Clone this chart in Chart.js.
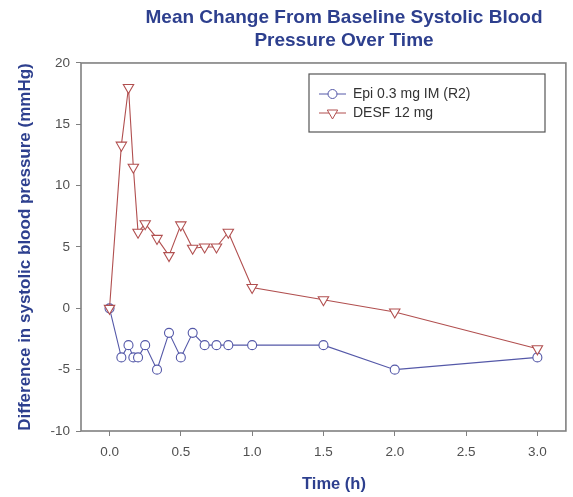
<!DOCTYPE html>
<html>
<head>
<meta charset="utf-8">
<script src="https://cdn.jsdelivr.net/npm/chart.js@4/dist/chart.umd.min.js"></script>
<style>
  html, body { margin: 0; padding: 0; background: #ffffff; }
  #wrap { width: 573px; height: 497px; }
</style>
</head>
<body>
<div id="wrap"><canvas id="c" width="573" height="497"></canvas></div>
<script>
// ---- data ----
const timesH = [0, 0.083, 0.133, 0.167, 0.2, 0.25, 0.333, 0.417, 0.5, 0.583, 0.667, 0.75, 0.833, 1.0, 1.5, 2.0, 3.0];
const epiValues  = [0, -4, -3, -4, -4, -3, -5, -2, -4, -2, -3, -3, -3, -3, -3, -5, -4];
const desfValues = [0, 13.3, 18, 11.5, 6.2, 6.9, 5.7, 4.3, 6.8, 4.9, 5.0, 5.0, 6.2, 1.7, 0.7, -0.3, -3.3];
const seriesLabels = ['Epi 0.3 mg IM (R2)', 'DESF 12 mg'];
const xTickValues = [0, 0.5, 1.0, 1.5, 2.0, 2.5, 3.0];
const yTickValues = [-10, -5, 0, 5, 10, 15, 20];
const titleLines = ['Mean Change From Baseline Systolic Blood', 'Pressure Over Time'];
const xTitle = 'Time (h)';
const yTitle = 'Difference in systolic blood pressure (mmHg)';

const FONT = "'Liberation Sans', Arial, Helvetica, sans-serif";
const NAVY = '#2d3f8e';
const EPI_COLOR = '#5458a8';
const DESF_COLOR = '#b14f4f';
const FRAME = '#808080';

const toPoints = (xs, ys) => xs.map((x, i) => ({ x: x, y: ys[i] }));

// frame around the plotting area + legend box inside it
const framePlugin = {
  id: 'frameAndLegend',
  afterLayout(chart) {
    // centre the title and x-axis title as in the reference
    const t = chart.titleBlock;
    if (t) { t.left = 100; t.right = 588; }
    const xs = chart.scales.x;
    xs.left += 21;
  },
  afterDatasetsDraw(chart) {
    const ctx = chart.ctx;
    const a = chart.chartArea;
    ctx.save();
    ctx.strokeStyle = FRAME;
    ctx.lineWidth = 1.6;
    ctx.strokeRect(a.left, a.top, a.right - a.left, a.bottom - a.top);

    // legend box
    const bx = 309, by = 74, bw = 236, bh = 58;
    ctx.fillStyle = '#ffffff';
    ctx.fillRect(bx, by, bw, bh);
    ctx.strokeStyle = '#555555';
    ctx.lineWidth = 1.2;
    ctx.strokeRect(bx, by, bw, bh);
    const rows = [94, 113];
    chart.data.datasets.forEach((ds, i) => {
      const y = rows[i];
      ctx.strokeStyle = ds.borderColor;
      ctx.lineWidth = 1;
      ctx.beginPath();
      ctx.moveTo(319, y);
      ctx.lineTo(346, y);
      ctx.stroke();
      ctx.fillStyle = '#ffffff';
      ctx.strokeStyle = ds.pointBorderColor;
      Chart.helpers.drawPoint(ctx, {
        pointStyle: ds.pointStyle, rotation: ds.pointRotation || 0,
        radius: ds.pointRadius, borderWidth: 1
      }, 332.5, y);
      ctx.fillStyle = '#333333';
      ctx.font = '14px ' + FONT;
      ctx.textBaseline = 'middle';
      ctx.textAlign = 'left';
      ctx.fillText(ds.label, 353, y);
    });
    ctx.restore();
  }
};

new Chart(document.getElementById('c'), {
  type: 'line',
  data: {
    datasets: [
      {
        label: seriesLabels[0],
        data: toPoints(timesH, epiValues),
        borderColor: EPI_COLOR,
        borderWidth: 1.1,
        pointStyle: 'circle',
        pointRadius: 4.5,
        pointBorderColor: EPI_COLOR,
        pointBackgroundColor: '#ffffff',
        pointBorderWidth: 1.1,
        fill: false,
        tension: 0,
        order: 1
      },
      {
        label: seriesLabels[1],
        data: toPoints(timesH, desfValues),
        borderColor: DESF_COLOR,
        borderWidth: 1.1,
        pointStyle: 'triangle',
        pointRotation: 180,
        pointRadius: 6,
        pointBorderColor: DESF_COLOR,
        pointBackgroundColor: '#ffffff',
        pointBorderWidth: 1.1,
        fill: false,
        tension: 0,
        order: 0
      }
    ]
  },
  options: {
    responsive: false,
    animation: false,
    devicePixelRatio: 1,
    layout: { padding: { left: 0, right: 7, top: 0, bottom: 0 } },
    plugins: {
      legend: { display: false },
      tooltip: { enabled: false },
      title: {
        display: true,
        text: titleLines,
        color: NAVY,
        font: { family: FONT, size: 19, weight: 'bold', lineHeight: 1.21 },
        padding: { top: 6, bottom: 11 }
      }
    },
    scales: {
      x: {
        type: 'linear',
        min: -0.2,
        max: 3.2,
        afterFit(scale) { scale.height = 66; },
        afterBuildTicks(scale) { scale.ticks = xTickValues.map(v => ({ value: v })); },
        grid: { drawOnChartArea: false, drawTicks: true, tickLength: 5, color: FRAME, lineWidth: 1 },
        border: { display: false },
        ticks: {
          color: '#505050',
          font: { family: FONT, size: 13.5 },
          padding: 8,
          callback: (v) => Number(v).toFixed(1)
        },
        title: {
          display: true,
          text: xTitle,
          color: NAVY,
          font: { family: FONT, size: 16.5, weight: 'bold' },
          padding: { top: 0, bottom: 3 }
        }
      },
      y: {
        type: 'linear',
        min: -10,
        max: 20,
        afterFit(scale) { scale.width = 81; },
        afterBuildTicks(scale) { scale.ticks = yTickValues.map(v => ({ value: v })); },
        grid: { drawOnChartArea: false, drawTicks: true, tickLength: 5, color: FRAME, lineWidth: 1 },
        border: { display: false },
        ticks: {
          color: '#505050',
          font: { family: FONT, size: 13.5 },
          padding: 6
        },
        title: {
          display: true,
          text: yTitle,
          color: NAVY,
          font: { family: FONT, size: 17, weight: 'bold' },
          padding: { top: 15, bottom: 0 }
        }
      }
    }
  },
  plugins: [framePlugin]
});
</script>
</body>
</html>
